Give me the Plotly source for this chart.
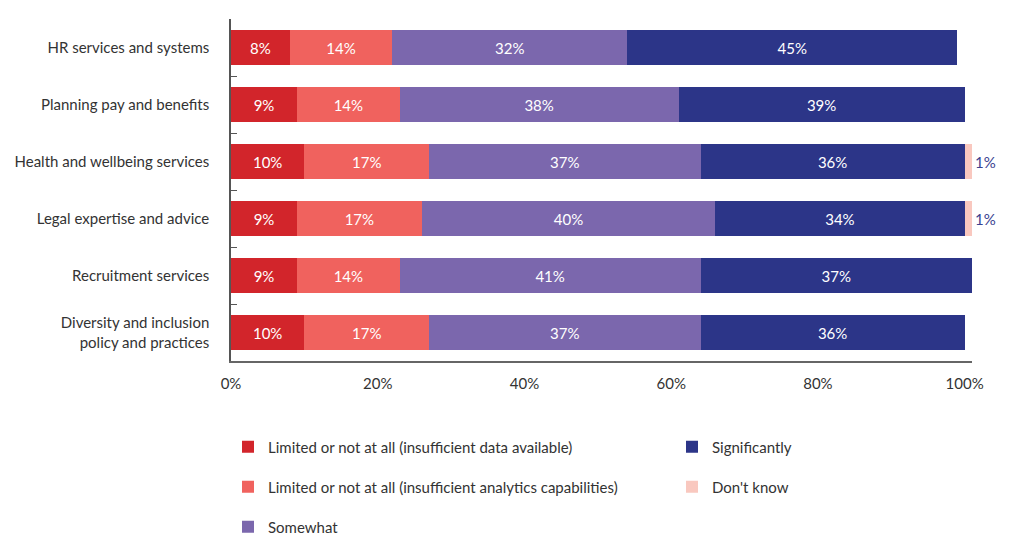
import plotly.graph_objects as go

categories = [
    "HR services and systems",
    "Planning pay and benefits",
    "Health and wellbeing services",
    "Legal expertise and advice",
    "Recruitment services",
    "Diversity and inclusion<br>policy and practices",
]

series_names = [
    "Limited or not at all (insufficient data available)",
    "Limited or not at all (insufficient analytics capabilities)",
    "Somewhat",
    "Significantly",
    "Don't know",
]

limited_data = [8, 9, 10, 9, 9, 10]
limited_analytics = [14, 14, 17, 17, 14, 17]
somewhat = [32, 38, 37, 40, 41, 37]
significantly = [45, 39, 36, 34, 37, 36]
dont_know = [None, None, 1, 1, None, None]

tick_values = [0, 20, 40, 60, 80, 100]
tick_labels = ["0%", "20%", "40%", "60%", "80%", "100%"]

colors = ["#d2252b", "#f0625e", "#7b67ad", "#2c3588", "#f9c8bf"]
series_values = [limited_data, limited_analytics, somewhat, significantly, dont_know]
legend_ids = ["legend", "legend2", "legend3", "legend4", "legend5"]

FONT = "Lato"
W, H = 1020, 535

fig = go.Figure()
for name, vals, col, lg in zip(series_names, series_values, colors, legend_ids):
    last = name == "Don't know"
    fig.add_trace(go.Bar(
        y=categories,
        x=vals,
        name=name,
        orientation="h",
        marker=dict(color=col, line=dict(width=0)),
        text=[f"{v}%" if v is not None else "" for v in vals],
        textposition="outside" if last else "inside",
        insidetextanchor="middle",
        textangle=0,
        textfont=dict(family=FONT, size=16 if last else 15,
                      color="#3a4190" if last else "#ffffff"),
        cliponaxis=False,
        legend=lg,
        hoverinfo="skip",
    ))

legend_pos = {
    "legend": (220, 439),
    "legend2": (220, 479),
    "legend3": (220, 519),
    "legend4": (664, 439),
    "legend5": (664, 479),
}
legend_layouts = {}
for lg, (px, py) in legend_pos.items():
    legend_layouts[lg] = dict(
        xref="container", yref="container",
        x=px / W, y=1 - py / H,
        xanchor="left", yanchor="middle",
        font=dict(family=FONT, size=15, color="#333333"),
        bgcolor="rgba(0,0,0,0)",
        itemclick=False, itemdoubleclick=False,
    )

fig.update_layout(
    width=W, height=H,
    barmode="stack",
    bargap=0.39,
    plot_bgcolor="white",
    paper_bgcolor="white",
    font=dict(family=FONT, size=15, color="#333333"),
    margin=dict(l=223, r=56, t=11, b=182, autoexpand=False),
    showlegend=True,
    uniformtext=dict(minsize=15, mode="show"),
    **legend_layouts,
)

fig.update_xaxes(
    range=[0, 101],
    tickvals=tick_values,
    ticktext=tick_labels,
    showgrid=False,
    zeroline=False,
    showline=True,
    linecolor="#666666",
    linewidth=1.5,
    ticks="outside",
    ticklen=8,
    tickcolor="rgba(0,0,0,0)",
    tickfont=dict(family=FONT, size=15, color="#333333"),
    automargin=False,
    fixedrange=True,
)
fig.update_yaxes(
    categoryorder="array",
    categoryarray=categories,
    autorange="reversed",
    showgrid=False,
    zeroline=False,
    showline=True,
    linecolor="#555555",
    linewidth=1.5,
    ticks="inside",
    ticklen=6,
    tickcolor="#555555",
    tickson="boundaries",
    ticklabelstandoff=17,
    tickfont=dict(family=FONT, size=15, color="#333333"),
    automargin=False,
    fixedrange=True,
)

fig.write_html("out.html")
